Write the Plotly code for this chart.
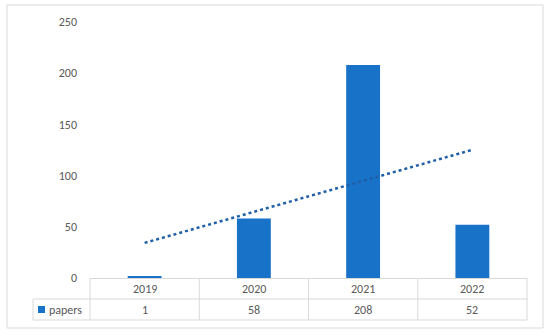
import numpy as np
import plotly.graph_objects as go

years = ["2019", "2020", "2021", "2022"]
papers = [1, 58, 208, 52]
y_ticks = [0, 50, 100, 150, 200, 250]
series_name = "papers"

BLUE = "#1872c8"
TREND = "#1f5fa8"
GRID = "#d9d9d9"
TXT = "#595959"
FONT = "Carlito, Lato, sans-serif"

# plot area in pixels
PX0, PX1, PY_TOP, PY_BOT = 90, 527, 22, 278
W, H = 550, 335


def px(x):
    return (x - PX0) / (PX1 - PX0)


def py(y):
    return (PY_BOT - y) / (PY_BOT - PY_TOP)


# linear trendline (Excel style) fitted on the data
xi = np.arange(1, len(papers) + 1)
slope, icpt = np.polyfit(xi, papers, 1)
trend = slope * xi + icpt

fig = go.Figure()
fig.add_trace(go.Bar(x=years, y=papers, marker=dict(color=BLUE, line=dict(width=0)),
                     width=0.31, name=series_name, showlegend=False))
fig.add_trace(go.Scatter(x=years, y=trend, mode="lines",
                         line=dict(color=TREND, width=2.5, dash="dot"),
                         showlegend=False, hoverinfo="skip"))

shapes = []
# outer chart border
shapes.append(dict(type="rect", xref="paper", yref="paper",
                   x0=px(7), x1=px(543), y0=py(328), y1=py(5),
                   line=dict(color=GRID, width=1), fillcolor="rgba(0,0,0,0)"))
# table lines
n = len(years)
colw = (PX1 - PX0) / n
ROW1, ROW2, ROW3 = 278, 299, 320
LEG_X = 33
for yy, xa in [(ROW2, LEG_X), (ROW3, LEG_X)]:
    shapes.append(dict(type="line", xref="paper", yref="paper",
                       x0=px(xa), x1=px(PX1), y0=py(yy), y1=py(yy),
                       line=dict(color=GRID, width=1)))
shapes.append(dict(type="line", xref="paper", yref="paper",
                   x0=px(LEG_X), x1=px(LEG_X), y0=py(ROW2), y1=py(ROW3),
                   line=dict(color=GRID, width=1)))
for i in range(n + 1):
    xx = PX0 + i * colw
    shapes.append(dict(type="line", xref="paper", yref="paper",
                       x0=px(xx), x1=px(xx), y0=py(ROW1), y1=py(ROW3),
                       line=dict(color=GRID, width=1)))
# legend key square
shapes.append(dict(type="rect", xref="paper", yref="paper",
                   x0=px(38), x1=px(45), y0=py(313), y1=py(306),
                   line=dict(width=0), fillcolor=BLUE))

annotations = []
for i, (yr, v) in enumerate(zip(years, papers)):
    cx = px(PX0 + (i + 0.5) * colw)
    annotations.append(dict(x=cx, y=py((ROW1 + ROW2) / 2), xref="paper", yref="paper",
                            text=yr, showarrow=False, xanchor="center", yanchor="middle",
                            font=dict(family=FONT, size=12, color=TXT)))
    annotations.append(dict(x=cx, y=py((ROW2 + ROW3) / 2), xref="paper", yref="paper",
                            text=str(v), showarrow=False, xanchor="center", yanchor="middle",
                            font=dict(family=FONT, size=12, color=TXT)))
annotations.append(dict(x=px(47), y=py((ROW2 + ROW3) / 2), xref="paper", yref="paper",
                        text=series_name, showarrow=False, xanchor="left", yanchor="middle",
                        font=dict(family=FONT, size=12, color=TXT)))

fig.update_layout(
    width=W, height=H,
    margin=dict(l=PX0, r=W - PX1, t=PY_TOP, b=H - PY_BOT),
    plot_bgcolor="white", paper_bgcolor="white",
    font=dict(family=FONT, size=12, color=TXT),
    xaxis=dict(type="category", range=[-0.5, n - 0.5], showticklabels=False,
               showgrid=False, zeroline=False, showline=True, linecolor=GRID, linewidth=1,
               ticks=""),
    yaxis=dict(range=[0, 250], tickvals=y_ticks, showgrid=False, zeroline=False,
               showline=False, ticks="", ticklabelstandoff=12,
               tickfont=dict(family=FONT, size=12, color=TXT)),
    shapes=shapes, annotations=annotations,
)

fig.write_html("out.html", config={"displayModeBar": False},
               post_script="document.body.style.margin='0';document.body.style.overflow='hidden';")
